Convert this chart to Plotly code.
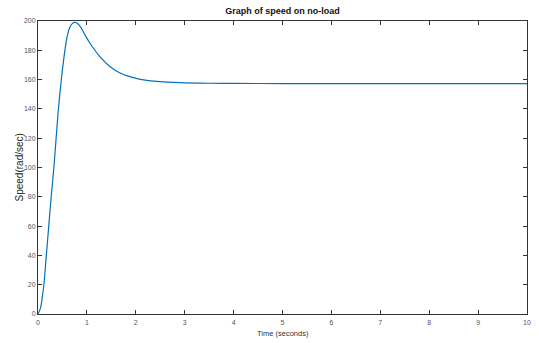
import plotly.graph_objects as go

time_s = [0, 0.05, 0.12, 0.17, 0.22, 0.27, 0.33, 0.41, 0.48, 0.55, 0.60, 0.65, 0.70, 0.76,
          0.82, 0.88, 0.96, 1.06, 1.27, 1.47, 1.68, 1.88, 2.09, 2.49, 2.9, 3.5, 4, 5, 6, 7, 8, 9, 10]
speed = [0, 4, 20, 40, 60, 80, 102, 137, 161, 180, 190, 195.5, 198.2, 199,
         198, 195.5, 190.5, 185, 175.5, 169, 164.5, 162, 160.2, 158.6, 157.9, 157.5, 157.4,
         157.3, 157.3, 157.3, 157.3, 157.3, 157.3]

x_ticks = list(range(0, 11))
y_ticks = list(range(0, 201, 20))

axis_color = "#333333"
font_family = "Liberation Sans, Arial, sans-serif"
tick_font = dict(family=font_family, size=7, color="#555555")

fig = go.Figure()
fig.add_trace(go.Scatter(x=time_s, y=speed, mode="lines",
                         line=dict(color="#0072BD", width=1.2, shape="spline", smoothing=0.8),
                         showlegend=False, hoverinfo="skip"))

W, H = 539, 343
L, R, T, B = 38, 12, 21, 29
pw, ph = W - L - R, H - T - B

fig.update_layout(
    width=W, height=H,
    margin=dict(l=L, r=R, t=T, b=B, autoexpand=False),
    paper_bgcolor="white", plot_bgcolor="white",
    title=dict(text="<b>Graph of speed on no-load</b>", x=0.5, xanchor="center",
               xref="paper", y=1 - 11 / H, yref="container", yanchor="middle",
               font=dict(family=font_family, size=9, color="#111111")),
    annotations=[
        dict(text="Speed(rad/sec)", xref="paper", yref="paper",
             x=(19 - L) / pw, y=0.5, xanchor="center", yanchor="middle",
             textangle=-90, showarrow=False,
             font=dict(family=font_family, size=10, color="#222222")),
        dict(text="Time (seconds)", xref="paper", yref="paper",
             x=0.5, y=-(333 - (T + ph)) / ph, xanchor="center", yanchor="middle",
             showarrow=False,
             font=dict(family=font_family, size=7.5, color="#333333")),
    ],
)
fig.update_xaxes(range=[0, 10], tickvals=x_ticks, ticks="inside", ticklen=4, tickcolor=axis_color,
                 showline=True, linecolor=axis_color, linewidth=1, mirror="ticks",
                 showgrid=False, zeroline=False, tickfont=tick_font, automargin=False,
                 ticklabelstandoff=2)
fig.update_yaxes(range=[0, 200], tickvals=y_ticks, ticks="inside", ticklen=4, tickcolor=axis_color,
                 showline=True, linecolor=axis_color, linewidth=1, mirror="ticks",
                 showgrid=False, zeroline=False, tickfont=tick_font, automargin=False)

fig.write_html("out.html", config={"displayModeBar": False},
               post_script="document.body.style.margin='0';document.body.style.overflow='hidden';")
